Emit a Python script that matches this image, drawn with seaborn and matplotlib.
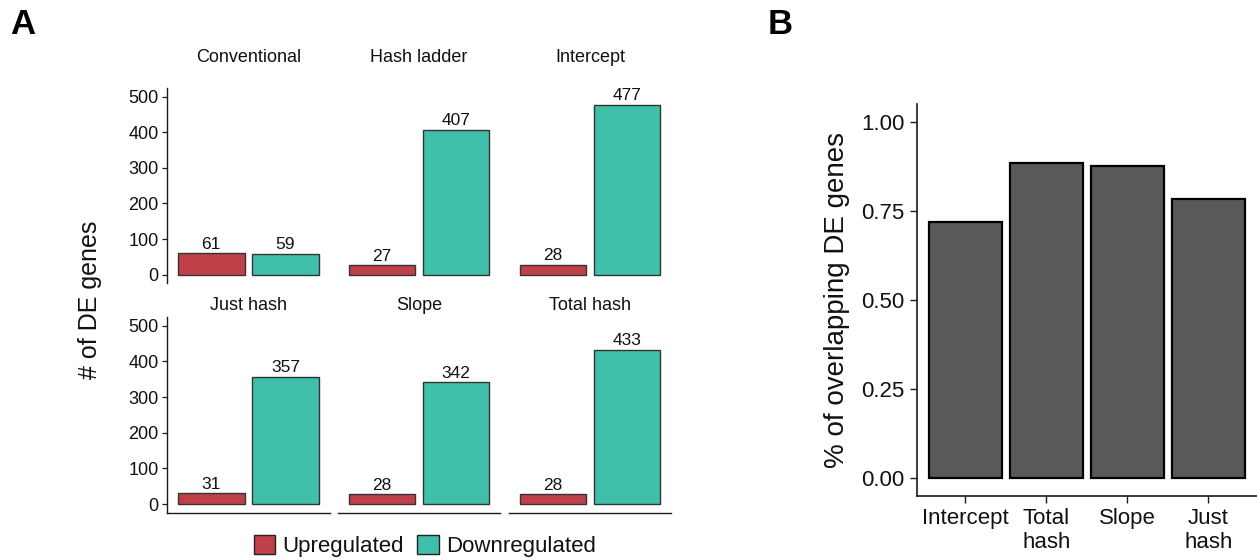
import numpy as np
import pandas as pd
import matplotlib
matplotlib.use("Agg")
import matplotlib.pyplot as plt
from matplotlib.patches import Patch
import seaborn as sns

# ---------------- data ----------------
methods_A = ["Conventional", "Hash ladder", "Intercept", "Just hash", "Slope", "Total hash"]
directions = ["Upregulated", "Downregulated"]
up_counts = [61, 27, 28, 31, 28, 28]
down_counts = [59, 407, 477, 357, 342, 433]
y_ticks_A = [0, 100, 200, 300, 400, 500]

methods_B = ["Intercept", "Total\nhash", "Slope", "Just\nhash"]
overlap_frac = [0.72, 0.885, 0.877, 0.784]
y_ticks_B = [0.00, 0.25, 0.50, 0.75, 1.00]

colors = {"Upregulated": "#C0404A", "Downregulated": "#40BFAA"}

# ---------------- style ----------------
sns.set_theme(style="ticks")
plt.rcParams["font.family"] = ["Liberation Sans", "DejaVu Sans"]
plt.rcParams["axes.edgecolor"] = "#1a1a1a"
plt.rcParams["xtick.color"] = "#1a1a1a"
plt.rcParams["ytick.color"] = "#1a1a1a"

W, H = 1257, 560
fig = plt.figure(figsize=(W / 100, H / 100), dpi=100)


def rect(l, t, r, b):
    return [l / W, 1 - b / H, (r - l) / W, (b - t) / H]


def fx(x):
    return x / W


def fy(y):
    return 1 - y / H


df_A = pd.DataFrame({
    "method": np.repeat(methods_A, 2),
    "direction": directions * len(methods_A),
    "count": [v for pair in zip(up_counts, down_counts) for v in pair],
})

cols_px = [(166.5, 330.0), (337.6, 500.3), (508.6, 671.4)]
rows_px = [(87.7, 283.3), (316.7, 512.7)]
strip_y = [57.5, 305.0]

for i, m in enumerate(methods_A):
    r, c = divmod(i, 3)
    l, rr = cols_px[c]
    t, b = rows_px[r]
    ax = fig.add_axes(rect(l, t, rr, b))
    sub = df_A[df_A["method"] == m]
    sns.barplot(data=sub, x="direction", y="count", hue="direction",
                order=directions, hue_order=directions, palette=colors,
                saturation=1, dodge=False, width=0.9, edgecolor="#333333",
                linewidth=1.0, legend=False, ax=ax)
    for cont in ax.containers:
        ax.bar_label(cont, padding=1, fontsize=12.5, color="#111111")
    ax.set_xlim(-0.6, 1.6)
    ax.set_ylim(-24, 525)
    ax.set_xlabel("")
    ax.set_ylabel("")
    ax.set_xticks([])
    ax.set_facecolor("none")
    for s in ["top", "right"]:
        ax.spines[s].set_visible(False)
    if c == 0:
        ax.set_yticks(y_ticks_A)
        ax.tick_params(axis="y", labelsize=13, length=3.5, width=0.9, pad=2,
                       labelcolor="#111111")
        ax.spines["left"].set_linewidth(1.0)
    else:
        ax.set_yticks([])
        ax.spines["left"].set_visible(False)
    if r == 1:
        ax.spines["bottom"].set_linewidth(1.0)
    else:
        ax.spines["bottom"].set_visible(False)
    fig.text(fx((l + rr) / 2), fy(strip_y[r]), m, ha="center", va="center",
             fontsize=13, color="#111111")

fig.text(fx(90), fy(300), "# of DE genes", rotation=90, ha="center", va="center",
         fontsize=18, color="#111111")

handles = [Patch(facecolor=colors[d], edgecolor="#222222", linewidth=1.0, label=d)
           for d in directions]
fig.legend(handles=handles, loc="center", bbox_to_anchor=(fx(425), fy(546)),
           ncol=2, frameon=False, fontsize=16, handlelength=0.95, handleheight=0.95,
           handletextpad=0.35, columnspacing=0.6, borderpad=0, labelcolor="#111111")

# ---------------- panel B ----------------
df_B = pd.DataFrame({"method": methods_B, "overlap": overlap_frac})
axB = fig.add_axes(rect(916.7, 104, 1257, 495.7))
sns.barplot(data=df_B, x="method", y="overlap", order=methods_B, color="#595959",
            saturation=1, width=0.9, edgecolor="black", linewidth=1.6, ax=axB)
axB.set_xlim(-0.6, 3.6)
axB.set_ylim(-0.05, 1.05)
axB.set_yticks(y_ticks_B)
axB.set_yticklabels([f"{v:.2f}" for v in y_ticks_B])
axB.set_xlabel("")
axB.set_ylabel("% of overlapping DE genes", fontsize=20, labelpad=8, color="#111111")
axB.tick_params(axis="both", labelsize=16, length=5, width=1.0, pad=4,
                labelcolor="#111111")
for s in ["top", "right"]:
    axB.spines[s].set_visible(False)
axB.spines["left"].set_linewidth(1.2)
axB.spines["bottom"].set_linewidth(1.2)
axB.set_facecolor("none")

fig.text(fx(10), fy(25), "A", fontsize=25, fontweight="bold", ha="left", va="center",
         color="black")
fig.text(fx(768), fy(25), "B", fontsize=25, fontweight="bold", ha="left", va="center",
         color="black")

fig.savefig("out.png", dpi=100)
